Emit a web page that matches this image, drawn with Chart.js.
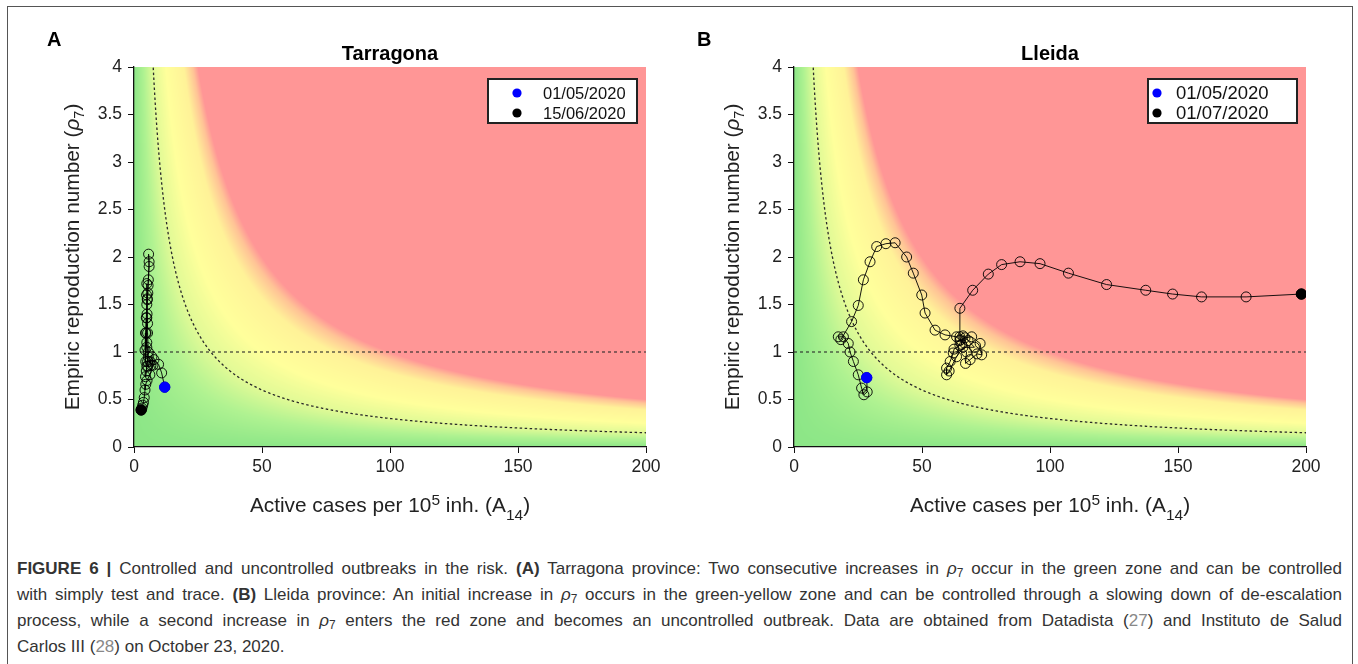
<!DOCTYPE html>
<html>
<head>
<meta charset="utf-8">
<script src="https://cdn.jsdelivr.net/npm/chart.js@4.4.1/dist/chart.umd.min.js"></script>
<style>
html,body{margin:0;padding:0;background:#fff;width:1358px;height:664px;overflow:hidden;font-family:'Liberation Sans',Arial,sans-serif;}
#frame{position:absolute;left:7px;top:6px;width:1346px;height:720px;border:1px solid #555;box-sizing:border-box;}
canvas{position:absolute;top:0;}
#cA{left:0px;} #cB{left:679px;}
.plab{position:absolute;font-weight:bold;font-size:20px;line-height:20px;color:#000;}
#caption{position:absolute;left:17px;top:556px;width:1325px;font-size:17px;line-height:26px;color:#333;}
#caption .ln{text-align:justify;text-align-last:justify;}
#caption .last{text-align:left;text-align-last:left;}
#caption sub{font-size:0.7em;vertical-align:-0.25em;line-height:0;}
#caption .ref{color:#888;}
</style>
</head>
<body>
<div id="frame"></div>
<canvas id="cA" width="679" height="540"></canvas>
<canvas id="cB" width="679" height="540"></canvas>
<div class="plab" style="left:47px;top:29px;">A</div>
<div class="plab" style="left:697px;top:29px;">B</div>
<div id="caption">
<div class="ln"><b>FIGURE 6 |</b> Controlled and uncontrolled outbreaks in the risk. <b>(A)</b> Tarragona province: Two consecutive increases in <i>ρ</i><sub>7</sub> occur in the green zone and can be controlled</div>
<div class="ln">with simply test and trace. <b>(B)</b> Lleida province: An initial increase in <i>ρ</i><sub>7</sub> occurs in the green-yellow zone and can be controlled through a slowing down of de-escalation</div>
<div class="ln">process, while a second increase in <i>ρ</i><sub>7</sub> enters the red zone and becomes an uncontrolled outbreak. Data are obtained from Datadista (<span class="ref">27</span>) and Instituto de Salud</div>
<div class="ln last">Carlos III (<span class="ref">28</span>) on October 23, 2020.</div>
</div>
<script>
// ---------------- data ----------------
const xTicks = [0, 50, 100, 150, 200];
const yTicks = [0, 0.5, 1, 1.5, 2, 2.5, 3, 3.5, 4];

const tarragonaDates = ['01/05/2020', '15/06/2020'];
const tarragonaA14 = [12.0, 10.8, 9.6, 7.8, 6.6, 5.6, 5.0, 5.3, 5.0, 5.4, 5.6, 5.9, 5.7, 5.9, 5.5, 5.2, 5.0, 4.7, 5.0, 5.3,
  4.8, 4.5, 5.0, 5.6, 5.3, 5.1, 4.9, 5.0, 5.2, 4.8, 4.5, 4.3, 4.6, 5.4, 6.3, 7.0, 7.4, 6.2, 5.1, 4.6,
  4.3, 4.0, 3.7, 3.4, 3.1, 2.8];
const tarragonaRho7 = [0.63, 0.78, 0.87, 0.92, 0.86, 0.95, 1.10, 1.30, 1.50, 1.62, 1.76, 1.95, 2.03, 1.90, 1.70, 1.55, 1.36, 1.20, 1.05, 0.90,
  0.80, 0.74, 0.85, 1.00, 1.20, 1.40, 1.60, 1.72, 1.56, 1.36, 1.20, 1.02, 0.90, 0.85, 0.90, 0.95, 0.86, 0.76, 0.70, 0.66,
  0.60, 0.52, 0.47, 0.44, 0.41, 0.39];

const lleidaDates = ['01/05/2020', '01/07/2020'];
const lleidaA14 = [28.4, 28.6, 27.3, 26.4, 25.1, 23.2, 21.9, 21.2, 19.3, 17.3, 18.3, 22.5, 25.1, 27.1, 29.7, 32.3, 35.9, 39.5, 44.0, 46.6,
  49.9, 51.2, 55.1, 59.0, 63.5, 64.8, 66.8, 69.4, 72.7, 73.3, 71.5, 68.8, 67.0, 67.4, 64.8, 62.5, 62.2, 61.0, 59.6, 59.6,
  60.6, 63.5, 66.0, 70.5, 68.0, 66.0, 65.5, 65.0, 64.8, 64.8, 69.8, 75.9, 81.1, 88.3, 96.1, 107.2, 122.1, 137.4, 147.9, 159.2,
  176.6, 198.2];
const lleidaRho7 = [0.73, 0.58, 0.55, 0.62, 0.76, 0.90, 1.00, 1.09, 1.16, 1.16, 1.13, 1.32, 1.49, 1.76, 1.95, 2.11, 2.14, 2.15, 2.00, 1.83,
  1.60, 1.41, 1.23, 1.18, 1.16, 1.12, 1.15, 1.16, 1.09, 0.97, 0.98, 0.92, 0.88, 1.00, 1.07, 1.03, 0.99, 0.90, 0.83, 0.76,
  0.80, 0.95, 1.05, 1.05, 1.12, 1.17, 1.08, 1.13, 1.16, 1.46, 1.65, 1.82, 1.92, 1.95, 1.93, 1.83, 1.71, 1.65, 1.61, 1.58,
  1.58, 1.61];

// risk-map reference values (A14 * rho7)
const EPG_CURVE = 30;
const RHO_REF = 1;
const ZONE_EPG = [0, 15, 30, 50, 78, 92, 100];
const ZONE_RGB = [[140,230,135],[175,242,145],[225,250,150],[255,255,155],[255,242,152],[255,195,150],[255,150,150]];

// ---------------- helpers ----------------
const FAM = "'Liberation Sans', Arial, sans-serif";

function zoneColor(e) {
  if (e <= ZONE_EPG[0]) return ZONE_RGB[0];
  for (let i = 0; i < ZONE_EPG.length - 1; i++) {
    if (e < ZONE_EPG[i + 1]) {
      const t = (e - ZONE_EPG[i]) / (ZONE_EPG[i + 1] - ZONE_EPG[i]);
      const a = ZONE_RGB[i], b = ZONE_RGB[i + 1];
      return [a[0] + (b[0] - a[0]) * t, a[1] + (b[1] - a[1]) * t, a[2] + (b[2] - a[2]) * t];
    }
  }
  return ZONE_RGB[ZONE_RGB.length - 1];
}

function richWidth(ctx, parts) {
  let w = 0;
  for (const p of parts) { ctx.font = (p.it ? 'italic ' : '') + p.s + 'px ' + FAM; w += ctx.measureText(p.t).width; }
  return w;
}
function drawRich(ctx, parts, x0, y0) {
  let x = x0;
  for (const p of parts) {
    ctx.font = (p.it ? 'italic ' : '') + p.s + 'px ' + FAM;
    ctx.fillText(p.t, x, y0 + (p.dy || 0));
    x += ctx.measureText(p.t).width;
  }
}

const riskPlugin = {
  id: 'riskmap',
  beforeDraw(chart) {
    const { ctx, chartArea: a, scales: { x, y } } = chart;
    const w = Math.round(a.right - a.left), h = Math.round(a.bottom - a.top);
    const off = document.createElement('canvas');
    off.width = w; off.height = h;
    const octx = off.getContext('2d');
    const img = octx.createImageData(w, h);
    for (let j = 0; j < h; j++) {
      const yv = Math.max(0, y.getValueForPixel(a.top + j + 0.5));
      for (let i = 0; i < w; i++) {
        const xv = Math.max(0, x.getValueForPixel(a.left + i + 0.5));
        const c = zoneColor(xv * yv);
        const k = (j * w + i) * 4;
        img.data[k] = c[0]; img.data[k + 1] = c[1]; img.data[k + 2] = c[2]; img.data[k + 3] = 255;
      }
    }
    octx.putImageData(img, 0, 0);
    ctx.drawImage(off, a.left, a.top);
  },
  beforeDatasetsDraw(chart) {
    const { ctx, chartArea: a, scales: { x, y } } = chart;
    ctx.save();
    ctx.beginPath(); ctx.rect(a.left, a.top, a.right - a.left, a.bottom - a.top); ctx.clip();
    ctx.strokeStyle = '#2a2a2a'; ctx.lineWidth = 1.1;
    ctx.setLineDash([3, 3]);
    ctx.beginPath();
    ctx.moveTo(a.left, y.getPixelForValue(RHO_REF));
    ctx.lineTo(a.right, y.getPixelForValue(RHO_REF));
    ctx.stroke();
    ctx.setLineDash([2.5, 2.5]);
    ctx.lineWidth = 1.3;
    ctx.beginPath();
    let started = false;
    for (let px = a.left; px <= a.right; px += 0.5) {
      const xv = x.getValueForPixel(px);
      if (xv <= 0) continue;
      const py = y.getPixelForValue(EPG_CURVE / xv);
      if (py < a.top - 20) continue;
      if (!started) { ctx.moveTo(px, py); started = true; } else ctx.lineTo(px, py);
    }
    ctx.stroke();
    ctx.restore();
  },
  afterDraw(chart) {
    const { ctx, chartArea: a } = chart;
    const o = chart.options.plugins.riskmap;
    ctx.save();
    ctx.fillStyle = '#222';
    ctx.textBaseline = 'alphabetic';
    const xp = [{ t: 'Active cases per 10', s: 20.8 }, { t: '5', s: 15.5, dy: -7.5 }, { t: ' inh. (A', s: 20.8 }, { t: '14', s: 15.5, dy: 8 }, { t: ')', s: 20.8 }];
    const xw = richWidth(ctx, xp);
    drawRich(ctx, xp, (a.left + a.right) / 2 - xw / 2, 512);
    const yp = [{ t: 'Empiric reproduction number (', s: 20.8 }, { t: 'ρ', s: 20.8, it: true }, { t: '7', s: 14.5, dy: 5 }, { t: ')', s: 20.8 }];
    const yw = richWidth(ctx, yp);
    ctx.save();
    ctx.translate(a.left - 55, (a.top + a.bottom) / 2);
    ctx.rotate(-Math.PI / 2);
    drawRich(ctx, yp, -yw / 2, 0);
    ctx.restore();
    // legend
    const bx = a.right - 158, by = a.top + 12, bw = 149, bh = 44;
    ctx.fillStyle = '#fff';
    ctx.fillRect(bx, by, bw, bh);
    ctx.strokeStyle = '#222'; ctx.lineWidth = 2; ctx.setLineDash([]);
    ctx.strokeRect(bx, by, bw, bh);
    const items = [chart.data.datasets[1], chart.data.datasets[2]];
    items.forEach((d, i) => {
      const cy = by + 14 + i * 20;
      ctx.beginPath();
      ctx.arc(bx + o.dotDx, cy, 4.6, 0, Math.PI * 2);
      ctx.fillStyle = d.backgroundColor; ctx.fill();
      ctx.fillStyle = '#111';
      ctx.font = o.fontSize + 'px ' + FAM;
      ctx.textBaseline = 'middle';
      ctx.fillText(d.label, bx + o.textDx, cy + 1);
    });
    ctx.restore();
  }
};

function makePanel(id, title, xs, ys, dates, yAxisWidth, rightPad, legendCfg) {
  const pts = xs.map((v, i) => ({ x: v, y: ys[i] }));
  return new Chart(document.getElementById(id), {
    type: 'scatter',
    data: {
      datasets: [
        {
          label: 'trajectory', data: pts, showLine: true,
          borderColor: 'rgba(0,0,0,0.9)', borderWidth: 1,
          pointRadius: 5, pointBorderWidth: 1, pointBackgroundColor: 'rgba(0,0,0,0)',
          pointBorderColor: 'rgba(0,0,0,0.9)', order: 2
        },
        {
          label: dates[0], data: [pts[0]], pointRadius: 5.2,
          backgroundColor: '#0000ff', borderColor: '#0000ff', order: 1
        },
        {
          label: dates[1], data: [pts[pts.length - 1]], pointRadius: 5.2,
          backgroundColor: '#000000', borderColor: '#000000', order: 0
        }
      ]
    },
    options: {
      responsive: false, animation: false, devicePixelRatio: 1, events: [],
      layout: { padding: { left: 0, right: rightPad, top: 0, bottom: 0 } },
      plugins: {
        legend: { display: false }, tooltip: { enabled: false },
        title: {
          display: true, text: title, fullSize: false, color: '#000',
          font: { family: FAM, size: 20, weight: 'bold', lineHeight: 1.2 },
          padding: { top: 42, bottom: 1 }
        },
        riskmap: legendCfg
      },
      scales: {
        x: {
          type: 'linear', min: xTicks[0], max: xTicks[xTicks.length - 1],
          afterBuildTicks: s => { s.ticks = xTicks.map(v => ({ value: v })); },
          afterFit: s => { s.height = 93; },
          ticks: { font: { family: FAM, size: 17.5 }, color: '#222', padding: 4, maxRotation: 0, callback: v => String(v) },
          grid: { display: true, drawOnChartArea: false, drawTicks: true, tickLength: 6, color: '#111', lineWidth: 1 },
          border: { display: true, color: '#111', width: 1.3 }
        },
        y: {
          type: 'linear', min: yTicks[0], max: yTicks[yTicks.length - 1],
          afterBuildTicks: s => { s.ticks = yTicks.map(v => ({ value: v })); },
          afterFit: s => { s.width = yAxisWidth; },
          ticks: { font: { family: FAM, size: 17.5 }, color: '#222', padding: 6, callback: v => String(v) },
          grid: { display: true, drawOnChartArea: false, drawTicks: true, tickLength: 6, color: '#111', lineWidth: 1 },
          border: { display: true, color: '#111', width: 1.3 }
        }
      }
    },
    plugins: [riskPlugin]
  });
}

makePanel('cA', 'Tarragona', tarragonaA14, tarragonaRho7, tarragonaDates, 134, 33, { dotDx: 29, textDx: 55, fontSize: 16.5 });
makePanel('cB', 'Lleida', lleidaA14, lleidaRho7, lleidaDates, 115, 52, { dotDx: 9, textDx: 28, fontSize: 18.5 });
</script>
</body>
</html>
